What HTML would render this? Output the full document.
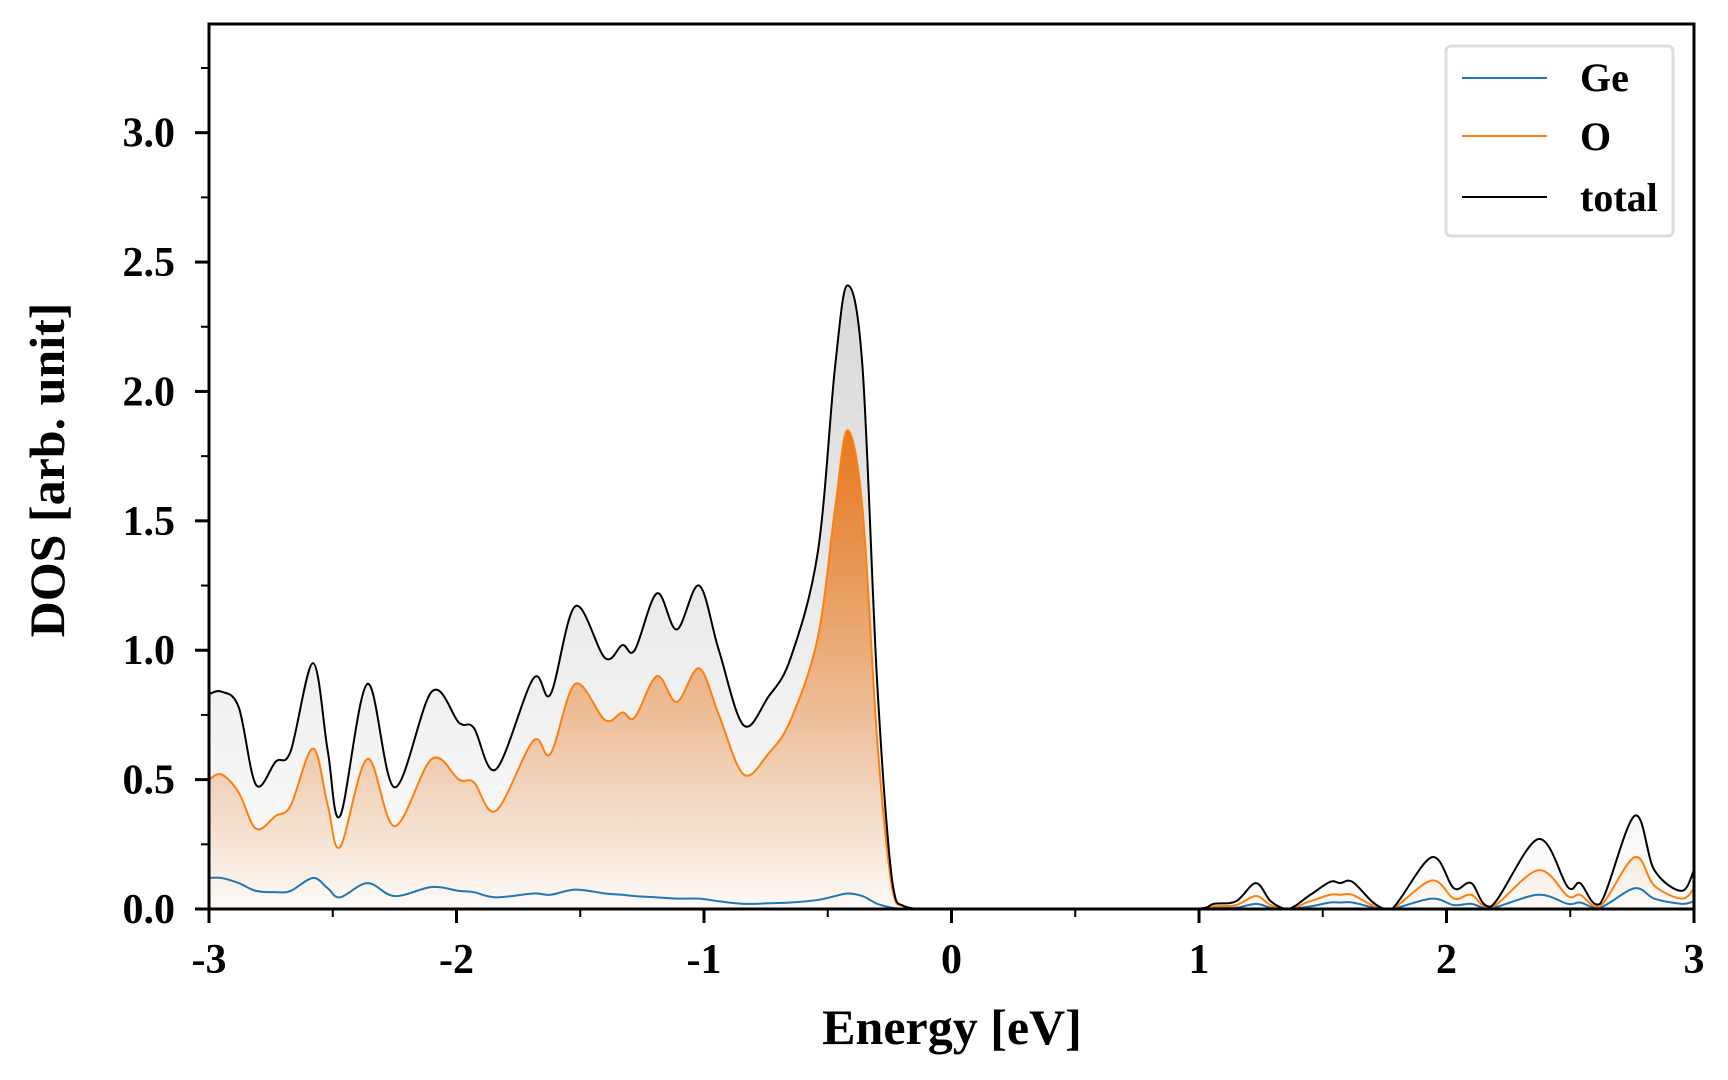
<!DOCTYPE html>
<html><head><meta charset="utf-8"><style>
html,body{margin:0;padding:0;background:#fff}
svg{display:block}
text{font-family:"Liberation Serif",serif;font-weight:bold;fill:#000}
</style></head><body>
<svg id="chart" width="1728" height="1080" viewBox="0 0 1728 1080">
<defs>
<linearGradient id="gradO" x1="0" y1="0" x2="0" y2="1"><stop offset="0" stop-color="#e8781e"/><stop offset="1" stop-color="#e8781e" stop-opacity="0.02"/></linearGradient>
<linearGradient id="gradT" x1="0" y1="0" x2="0" y2="1"><stop offset="0" stop-color="#d8d8d8"/><stop offset="1" stop-color="#d8d8d8" stop-opacity="0.05"/></linearGradient>
<clipPath id="clip"><rect x="209" y="24" width="1485" height="885"/></clipPath>
</defs>
<g id="plot" clip-path="url(#clip)"></g>
<g id="axes"></g>
</svg>
<script>
const energy=[-3,-2.95,-2.88,-2.81,-2.73,-2.67,-2.58,-2.52,-2.47,-2.36,-2.25,-2.10,-1.99,-1.93,-1.84,-1.69,-1.62,-1.52,-1.40,-1.33,-1.28,-1.19,-1.11,-1.02,-0.94,-0.84,-0.74,-0.65,-0.54,-0.47,-0.42,-0.36,-0.30,-0.24,-0.19,-0.05,0.5,0.97,1.06,1.15,1.23,1.29,1.36,1.45,1.53,1.57,1.62,1.71,1.78,1.94,2.03,2.10,2.18,2.37,2.49,2.54,2.62,2.76,2.84,2.95,3.0];
const totalDos=[0.83,0.84,0.78,0.48,0.57,0.61,0.95,0.61,0.36,0.87,0.47,0.84,0.72,0.70,0.54,0.89,0.83,1.17,0.97,1.02,1.00,1.22,1.08,1.25,1.00,0.71,0.82,0.97,1.38,2.10,2.41,2.10,0.87,0.11,0.01,0,0,0,0.02,0.03,0.10,0.03,0,0.055,0.105,0.10,0.105,0.02,0,0.20,0.08,0.10,0.01,0.27,0.085,0.10,0.02,0.36,0.15,0.07,0.15];
const oDos=[0.50,0.52,0.45,0.31,0.36,0.40,0.62,0.40,0.24,0.58,0.32,0.58,0.50,0.49,0.38,0.65,0.60,0.87,0.73,0.76,0.74,0.90,0.80,0.93,0.75,0.52,0.60,0.73,1.05,1.55,1.85,1.55,0.65,0.08,0.01,0,0,0,0.01,0.015,0.05,0.015,0,0.03,0.055,0.055,0.055,0.01,0,0.11,0.04,0.055,0.005,0.15,0.05,0.055,0.01,0.20,0.09,0.04,0.08];
const geDos=[0.12,0.12,0.10,0.07,0.065,0.07,0.12,0.08,0.045,0.10,0.05,0.085,0.07,0.065,0.045,0.06,0.055,0.075,0.06,0.055,0.05,0.045,0.04,0.04,0.03,0.02,0.022,0.025,0.035,0.05,0.06,0.05,0.02,0.005,0,0,0,0,0.005,0.005,0.02,0.005,0,0.01,0.025,0.025,0.025,0.005,0,0.04,0.015,0.02,0.003,0.055,0.02,0.025,0.005,0.08,0.04,0.02,0.03];
const xTicks=[-3,-2,-1,0,1,2,3];
const xTickLabels=["-3","-2","-1","0","1","2","3"];
const yTicks=[0,0.5,1,1.5,2,2.5,3];
const yTickLabels=["0.0","0.5","1.0","1.5","2.0","2.5","3.0"];

const X0=209,X1=1694,Y0=909,YT=24,XMIN=-3,XMAX=3,YMAX=3.42;
const sx=v=>X0+(v-XMIN)/(XMAX-XMIN)*(X1-X0);
const sy=v=>Y0-v/YMAX*(Y0-YT);
const NS="http://www.w3.org/2000/svg";
function mk(tag,attrs,parent){const e=document.createElementNS(NS,tag);for(const k in attrs)e.setAttribute(k,attrs[k]);parent.appendChild(e);return e;}
function smooth(vals){
  const p=energy.map((e,i)=>[sx(e),sy(vals[i])]);
  let d="M"+p[0][0]+","+p[0][1];
  for(let i=0;i<p.length-1;i++){
    const p0=p[Math.max(0,i-1)],p1=p[i],p2=p[i+1],p3=p[Math.min(p.length-1,i+2)];
    let c1y=p1[1]+(p2[1]-p0[1])/6,c2y=p2[1]-(p3[1]-p1[1])/6;
    if(c1y>Y0)c1y=Y0; if(c2y>Y0)c2y=Y0;
    d+=" C"+(p1[0]+(p2[0]-p0[0])/6)+","+c1y+" "+(p2[0]-(p3[0]-p1[0])/6)+","+c2y+" "+p2[0]+","+p2[1];
  }
  return d;
}
const plot=document.getElementById('plot'),axes=document.getElementById('axes');
const close=" L"+sx(XMAX)+","+Y0+" L"+sx(XMIN)+","+Y0+" Z";
let el;
el=mk('path',{d:smooth(totalDos)+close,fill:'url(#gradT)',stroke:'none'},plot);


el=mk('path',{d:smooth(oDos)+close,fill:'url(#gradO)',stroke:'none'},plot);


el=mk('path',{d:smooth(geDos),fill:'none',stroke:'#1f77b4','stroke-width':2},plot);


el=mk('path',{d:smooth(oDos),fill:'none',stroke:'#ff7f0e','stroke-width':2},plot);


el=mk('path',{d:smooth(totalDos),fill:'none',stroke:'#000','stroke-width':2},plot);



el=mk('rect',{x:X0,y:YT,width:X1-X0,height:Y0-YT,fill:'none',stroke:'#000','stroke-width':3},axes);


for(let v=-3;v<=3.001;v+=0.5){
  const major=Math.abs(v-Math.round(v))<1e-6;
  el=mk('line',{x1:sx(v),x2:sx(v),y1:Y0,y2:Y0+(major?14:8),stroke:'#000','stroke-width':major?3:2},axes);
  
  
}
xTicks.forEach((v,i)=>{
  el=mk('text',{x:sx(v),y:973,'text-anchor':'middle','font-size':42},axes);
  el.textContent=xTickLabels[i];
  
  
});
for(let v=0;v<=YMAX;v+=0.25){
  const major=Math.abs(v*2-Math.round(v*2))<1e-6;
  el=mk('line',{x1:X0,x2:X0-(major?14:8),y1:sy(v),y2:sy(v),stroke:'#000','stroke-width':major?3:2},axes);
  
  
}
yTicks.forEach((v,i)=>{
  el=mk('text',{x:175,y:sy(v)+14,'text-anchor':'end','font-size':42},axes);
  el.textContent=yTickLabels[i];
  
  
});
</script>
<svg style="position:absolute;left:0;top:0" width="1728" height="1080">
<text x="952" y="1044" text-anchor="middle" font-size="50">Energy [eV]</text>
<text transform="translate(64,470) rotate(-90)" text-anchor="middle" font-size="50">DOS [arb. unit]</text>
<g>
<rect x="1446" y="46" width="227" height="190" rx="5" fill="#fff" fill-opacity="0.85" stroke="#dcdcdc" stroke-width="3"/>
<line x1="1462" x2="1547" y1="78" y2="78" stroke="#1f77b4" stroke-width="2"/>
<text x="1580" y="91" font-size="40">Ge</text>
<line x1="1462" x2="1547" y1="136" y2="136" stroke="#ff7f0e" stroke-width="2"/>
<text x="1580" y="150" font-size="40">O</text>
<line x1="1462" x2="1547" y1="197" y2="197" stroke="#000" stroke-width="2"/>
<text x="1580" y="211" font-size="40">total</text>
</g>
</svg>
</body></html>
